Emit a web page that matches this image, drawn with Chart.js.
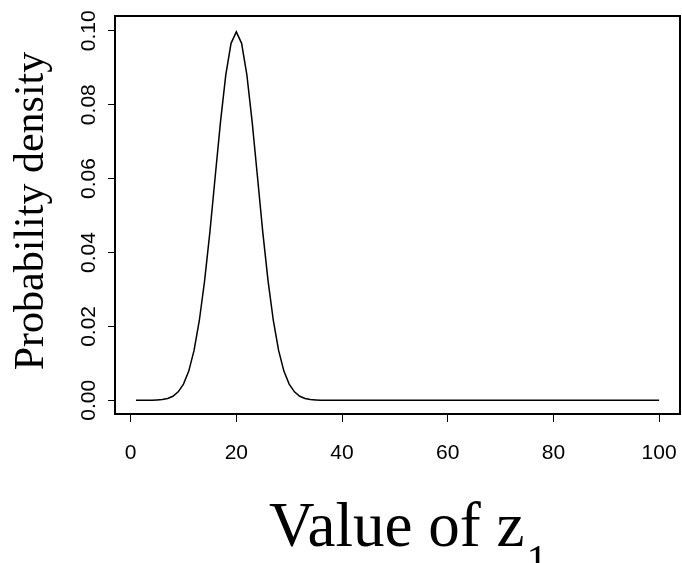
<!DOCTYPE html>
<html>
<head>
<meta charset="utf-8">
<script src="https://cdn.jsdelivr.net/npm/chart.js@4"></script>
<style>
  body { margin: 0; background: #fff; }
  canvas { display: block; }
</style>
</head>
<body>
<canvas id="density-canvas" width="682" height="563"></canvas>
<script>
// values of z1 (x) and the density
var zValues = [
  1, 2, 3, 4, 5, 6, 7, 8, 9, 10,
  11, 12, 13, 14, 15, 16, 17, 18, 19, 20,
  21, 22, 23, 24, 25, 26, 27, 28, 29, 30,
  31, 32, 33, 34, 35, 36, 37, 38, 39, 40,
  41, 42, 43, 44, 45, 46, 47, 48, 49, 50,
  51, 52, 53, 54, 55, 56, 57, 58, 59, 60,
  61, 62, 63, 64, 65, 66, 67, 68, 69, 70,
  71, 72, 73, 74, 75, 76, 77, 78, 79, 80,
  81, 82, 83, 84, 85, 86, 87, 88, 89, 90,
  91, 92, 93, 94, 95, 96, 97, 98, 99, 100
];
var densityValues = [
  0, 0, 0, 0, 0.0001, 0.0002, 0.0005, 0.0011, 0.0023, 0.0044,
  0.0079, 0.0135, 0.0216, 0.0324, 0.0456, 0.0605, 0.0753, 0.0880, 0.0966, 0.0997,
  0.0966, 0.0880, 0.0753, 0.0605, 0.0456, 0.0324, 0.0216, 0.0135, 0.0079, 0.0044,
  0.0023, 0.0011, 0.0005, 0.0002, 0.0001, 0, 0, 0, 0, 0,
  0, 0, 0, 0, 0, 0, 0, 0, 0, 0,
  0, 0, 0, 0, 0, 0, 0, 0, 0, 0,
  0, 0, 0, 0, 0, 0, 0, 0, 0, 0,
  0, 0, 0, 0, 0, 0, 0, 0, 0, 0,
  0, 0, 0, 0, 0, 0, 0, 0, 0, 0,
  0, 0, 0, 0, 0, 0, 0, 0, 0, 0
];
var xTickValues = [0, 20, 40, 60, 80, 100];
var yTickValues = [0, 0.02, 0.04, 0.06, 0.08, 0.10];
var xTitle = 'Value of z';
var xTitleSub = '1';
var yTitle = 'Probability density';

var points = [];
for (var i = 0; i < zValues.length; i++) {
  points.push({ x: zValues[i], y: densityValues[i] });
}

var sansFont = '"Liberation Sans", Arial, sans-serif';
var serifFont = '"Liberation Serif", "Times New Roman", serif';

// box, rotated y tick labels and the axis titles, R style
var rStylePlugin = {
  id: 'rStyle',
  afterDraw: function(chart) {
    var ctx = chart.ctx;
    var area = chart.chartArea;
    var yScale = chart.scales.y;
    ctx.save();
    ctx.strokeStyle = '#000';
    ctx.lineWidth = 2;
    ctx.strokeRect(area.left, area.top, area.right - area.left, area.bottom - area.top);

    ctx.fillStyle = '#000';
    ctx.font = '21px ' + sansFont;
    ctx.textAlign = 'center';
    ctx.textBaseline = 'alphabetic';
    yTickValues.forEach(function(v) {
      var py = yScale.getPixelForValue(v);
      ctx.save();
      ctx.translate(95, py);
      ctx.rotate(-Math.PI / 2);
      ctx.fillText(v.toFixed(2), 0, 0);
      ctx.restore();
    });

    ctx.font = '42px ' + serifFont;
    ctx.save();
    ctx.translate(43, 211);
    ctx.rotate(-Math.PI / 2);
    ctx.fillText(yTitle, 0, 0);
    ctx.restore();

    ctx.textAlign = 'left';
    ctx.font = '63px ' + serifFont;
    ctx.fillText(xTitle, 269, 546);
    var w = ctx.measureText(xTitle).width;
    ctx.font = '42px ' + serifFont;
    ctx.fillText(xTitleSub, 271 + w, 574);
    ctx.restore();
  }
};

window.onload = function() {
  var ctx = document.getElementById('density-canvas').getContext('2d');
  window.densityChart = new Chart(ctx, {
    type: 'line',
    data: {
      datasets: [{
        data: points,
        borderColor: '#000',
        borderWidth: 1.5,
        pointRadius: 0,
        tension: 0,
        fill: false
      }]
    },
    options: {
      responsive: false,
      animation: false,
      devicePixelRatio: 1,
      layout: { padding: { left: 0, top: 16, right: 2, bottom: 0 } },
      plugins: {
        legend: { display: false },
        tooltip: { enabled: false }
      },
      scales: {
        x: {
          type: 'linear',
          min: -2.96,
          max: 103.96,
          afterBuildTicks: function(scale) {
            scale.ticks = xTickValues.map(function(v) { return { value: v }; });
          },
          afterFit: function(scale) {
            scale.height = 149;
            scale.paddingLeft = 0;
            scale.paddingRight = 0;
          },
          border: { display: false },
          grid: {
            drawOnChartArea: false,
            drawTicks: true,
            tickLength: 8,
            tickColor: '#000',
            tickWidth: 1
          },
          ticks: {
            color: '#000',
            padding: 19,
            maxRotation: 0,
            font: { family: sansFont, size: 21 },
            callback: function(v) { return String(v); }
          }
        },
        y: {
          type: 'linear',
          min: -0.0037,
          max: 0.104,
          afterBuildTicks: function(scale) {
            scale.ticks = yTickValues.map(function(v) { return { value: v }; });
          },
          afterFit: function(scale) {
            scale.width = 115;
            scale.paddingTop = 0;
            scale.paddingBottom = 0;
          },
          border: { display: false },
          grid: {
            drawOnChartArea: false,
            drawTicks: true,
            tickLength: 7,
            tickColor: '#000',
            tickWidth: 1
          },
          ticks: { display: false }
        }
      }
    },
    plugins: [rStylePlugin]
  });
};
</script>
</body>
</html>
